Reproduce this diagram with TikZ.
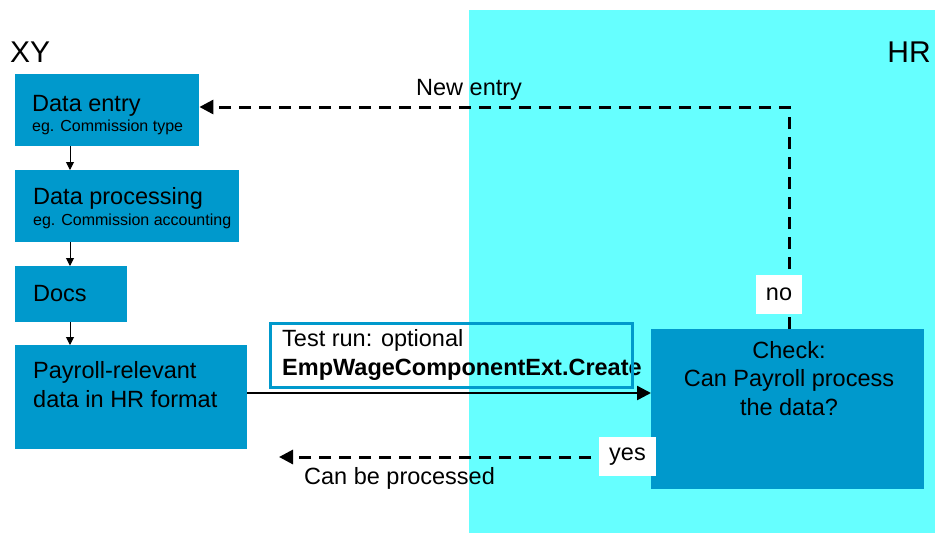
\documentclass[tikz,border=0pt]{standalone}
\usepackage{fontspec}
\setmainfont{Liberation Sans}
\usetikzlibrary{arrows.meta}
\definecolor{boxblue}{HTML}{0099CC}
\definecolor{hrcyan}{HTML}{66FFFF}
\begin{document}
\begin{tikzpicture}[x=1pt,y=-1pt,
  bluebox/.style={fill=boxblue, draw=none, inner sep=0pt, anchor=north west},
  bigtext/.style={font=\fontsize{23.5}{28}\selectfont},
  smalltext/.style={font=\fontsize{16}{19}\selectfont},
  lbl/.style={inner sep=0pt, anchor=base west},
  thinarrow/.style={-{Triangle[length=8pt,width=8pt]}, line width=1pt},
  dasharrow/.style={-{Triangle[length=14pt,width=14pt]}, line width=3pt, dash pattern=on 12pt off 8pt},
  solidarrow/.style={-{Triangle[length=14pt,width=14pt]}, line width=2.5pt},
  whitelabel/.style={fill=white, inner sep=0pt, font=\fontsize{23.5}{28}\selectfont}]
\useasboundingbox (0,0) rectangle (935,533);
\fill[white] (0,0) rectangle (935,533);
% HR area
\node[fill=hrcyan, draw=none, inner sep=0pt, anchor=north west, minimum width=466pt, minimum height=523pt] (hrarea) at (469,10) {};
% titles
\node[lbl, font=\fontsize{30}{34}\selectfont] (xy) at (10,62) {XY};
\node[inner sep=0pt, anchor=base east, font=\fontsize{30}{34}\selectfont] (hr) at (931,62) {HR};
% boxes
\node[bluebox, minimum width=184pt, minimum height=72pt] (entry) at (15,74) {};
\node[bluebox, minimum width=224pt, minimum height=72pt] (proc) at (15,170) {};
\node[bluebox, minimum width=112pt, minimum height=56pt] (docs) at (15,266) {};
\node[bluebox, minimum width=232pt, minimum height=104pt] (pay) at (15,345) {};
\node[bluebox, minimum width=273pt, minimum height=160pt] (check) at (651,329) {};
% box texts
\node[lbl, bigtext] (t1) at (32,111) {Data entry};
\node[lbl, smalltext] (t1b) at (32,131) {eg. Commission type};
\node[lbl, bigtext] (t2) at (33,204) {Data processing};
\node[lbl, smalltext] (t2b) at (33,225) {eg. Commission accounting};
\node[lbl, bigtext] (t3) at (33,301) {Docs};
\node[lbl, bigtext] (t4) at (33,378) {Payroll-relevant};
\node[lbl, bigtext] (t4b) at (33,407) {data in HR format};
\node[inner sep=0pt, anchor=base, bigtext] (c1) at (789,358) {Check:};
\node[inner sep=0pt, anchor=base, bigtext] (c2) at (789,386) {Can Payroll process};
\node[inner sep=0pt, anchor=base, bigtext] (c3) at (789,415) {the data?};
% helper coordinates
\coordinate (xa) at (70,0);
\coordinate (yline) at (0,393);
\coordinate (xno) at (789,0);
\coordinate (ytop) at (0,107);
\coordinate (yyes) at (0,457);
\coordinate (yesend) at (279,457);
% small arrows
\draw[thinarrow] (entry.south -| xa) -- (proc.north -| xa);
\draw[thinarrow] (proc.south -| xa) -- (docs.north -| xa);
\draw[thinarrow] (docs.south -| xa) -- (pay.north -| xa);
% main arrow
\draw[solidarrow] (pay.east |- yline) -- (check.west |- yline);
% no path
\draw[dasharrow] (check.north -| xno) -- (xno |- ytop) -- (entry.east |- ytop);
\node[whitelabel, minimum width=46pt, minimum height=39pt] (no) at (779,294.5) {no};
% yes path
\draw[dasharrow] (check.west |- yyes) -- (yesend);
\node[whitelabel, minimum width=57pt, minimum height=39pt] (yes) at (627.5,456.5) {yes};
% labels
\node[lbl, bigtext] (newentry) at (416,95) {New entry};
\node[lbl, bigtext] (canproc) at (304,484) {Can be processed};
\node[lbl, bigtext] (test1) at (282,346) {Test run: optional};
\node[lbl, bigtext, font=\fontsize{23.5}{28}\selectfont\bfseries] (test2) at (282,375) {EmpWageComponentExt.Create};
\node[draw=boxblue, line width=3pt, inner sep=0pt, anchor=north west, minimum width=362pt, minimum height=64pt] (testbox) at (269,322) {};
\end{tikzpicture}
\end{document}
